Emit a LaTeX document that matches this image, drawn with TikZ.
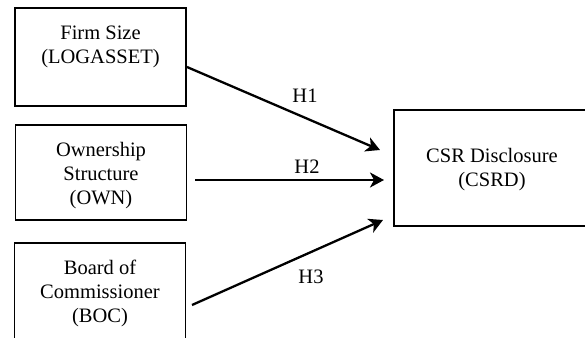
\documentclass[tikz,border=0pt]{standalone}
\usepackage{fontspec}
\setmainfont{Liberation Serif}
\usetikzlibrary{arrows.meta}

\tikzset{
  varbox/.style={draw, line width=1.5pt, minimum width=171pt, inner sep=0pt},
  vartext/.style={align=center, font=\fontsize{20.5}{24}\selectfont},
  hyp/.style={font=\fontsize{20.5}{24}\selectfont},
  link/.style={line width=2.3pt, -{Stealth[length=14pt,width=15pt,inset=4pt]}}
}

\begin{document}
\begin{tikzpicture}[x=1pt,y=-1pt]
				\useasboundingbox (0,0) rectangle (585,337);
				% Draw the independent variable boxes
				\node[varbox, minimum height=98pt] (size) at (100.5,57) {};
				\node[vartext] (sizetext) at (100.5,47) {Firm Size\\(LOGASSET)};
				\node[varbox, minimum height=95pt] (own) at (101,172.5) {};
				\node[vartext] (owntext) at (101,176) {Ownership\\Structure\\(OWN)};
				\node[varbox, minimum height=100pt] (boc) at (100,293) {};
				\node[vartext] (boctext) at (100,293) {Board of\\Commissioner\\(BOC)};
				
				% Draw the dependent variable box
				\node[varbox, minimum width=196pt, minimum height=116pt] (csrd) at (492,168) {};
				\node[vartext] (csrdtext) at (492,170) {CSR Disclosure\\(CSRD)};
				
				% Arrow end points
				\coordinate (s1) at (187,67);
				\coordinate (e1) at (380,150);
				\coordinate (s2) at (195,180);
				\coordinate (e2) at (384,180);
				\coordinate (s3) at (192,305);
				\coordinate (e3) at (383,220);
				
				% Draw the hypotheses
				\draw[link] (s1) -- (e1);
				\draw[link] (s2) -- (e2);
				\draw[link] (s3) -- (e3);
				\node[hyp] (h1) at (305,96) {H1};
				\node[hyp] (h2) at (307,167) {H2};
				\node[hyp] (h3) at (311,277) {H3};
			\end{tikzpicture}
\end{document}
